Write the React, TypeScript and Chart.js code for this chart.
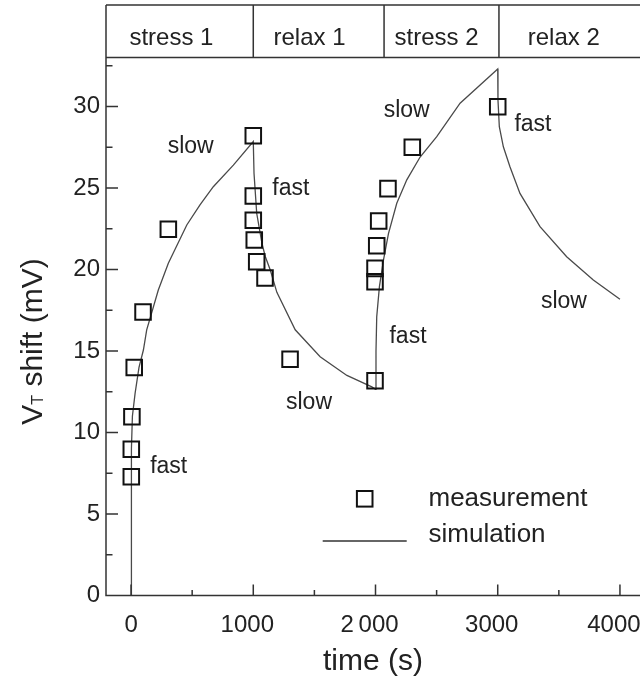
import React, { useEffect, useRef } from 'react';
import { Chart, registerables } from 'chart.js';

Chart.register(...registerables);

// ---------- data ----------
const phaseNames = ['stress 1', 'relax 1', 'stress 2', 'relax 2'];
const phaseLabelTime = [330, 1460, 2500, 3540];
const phaseEdges = [1000, 2070, 3010];

const measTime = [2, 2, 7, 26, 98, 305, 1000, 1000, 1000, 1008, 1028, 1096, 1301, 1996, 1996, 1996, 2010, 2026, 2102, 2301, 3000];
const measShift = [7.29, 8.97, 10.97, 13.99, 17.39, 22.47, 28.21, 24.51, 23.02, 21.81, 20.48, 19.48, 14.49, 13.18, 19.25, 20.07, 21.46, 22.98, 24.96, 27.5, 29.99];

const simTime = [
  0, 2, 4, 11, 33, 65, 101, 128, 223, 305, 456, 564, 673, 837, 1000,
  1006, 1028, 1071, 1098, 1139, 1193, 1343, 1547, 1766, 1970, 2000,
  2004, 2010, 2032, 2065, 2106, 2174, 2256, 2365, 2501, 2692, 3000,
  3002, 3013, 3046, 3100, 3182, 3346, 3564, 3782, 4000,
];
const simShift = [
  0, 7.3, 9.0, 11.0, 12.4, 14.0, 15.06, 16.3, 18.74, 20.38, 22.73, 23.96, 25.08, 26.4, 27.85,
  25.9, 23.45, 21.6, 20.8, 19.97, 18.6, 16.3, 14.65, 13.5, 12.8, 12.65,
  15.0, 17.1, 18.95, 20.58, 22.2, 24.06, 25.5, 26.9, 28.15, 30.2, 32.3,
  30.4, 28.76, 27.53, 26.3, 24.67, 22.63, 20.78, 19.36, 18.17,
];

const xTicks = [0, 1000, 2000, 3000, 4000];
const xTickLabels = ['0', '1000', '2\u2009000', '3000', '4000'];
const xMinorTicks = [500, 1500, 2500, 3500];
const yTicks = [0, 5, 10, 15, 20, 25, 30];
const yMinorTicks = [2.5, 7.5, 12.5, 17.5, 22.5, 27.5, 32.5];

const noteText = ['slow', 'fast', 'fast', 'slow', 'slow', 'fast', 'fast', 'slow'];
const noteTime = [488, 308, 1307, 1456, 2255, 2266, 3288, 3542];
const noteShift = [27.13, 7.5, 24.57, 11.44, 29.37, 15.49, 28.52, 17.62];

const xTitle = 'time (s)';
const yTitleMain = 'V';
const yTitleSub = 'T';
const yTitleRest = ' shift (mV)';

// ---------- styles ----------
const FONT = "'Liberation Sans', Arial, Helvetica, sans-serif";
const TEXT = '#222222';
const AXIS = '#333333';

const decorPlugin = {
  id: 'decor',
  afterDraw(chart: any) {
    const { ctx, chartArea: a, scales } = chart;
    const xs = scales.x;
    const ys = scales.y;
    const headerTop = 5;
    ctx.save();
    ctx.strokeStyle = AXIS;
    ctx.lineWidth = 1.5;
    ctx.beginPath();
    // frame + header box
    ctx.moveTo(a.left, headerTop);
    ctx.lineTo(a.left, a.bottom);
    ctx.lineTo(a.right, a.bottom);
    ctx.moveTo(a.left, headerTop);
    ctx.lineTo(a.right, headerTop);
    ctx.moveTo(a.left, a.top);
    ctx.lineTo(a.right, a.top);
    phaseEdges.forEach((t) => {
      const px = xs.getPixelForValue(t);
      ctx.moveTo(px, headerTop);
      ctx.lineTo(px, a.top);
    });
    // inward ticks
    yTicks.forEach((v) => {
      const py = ys.getPixelForValue(v);
      ctx.moveTo(a.left, py);
      ctx.lineTo(a.left + 12, py);
    });
    yMinorTicks.forEach((v) => {
      const py = ys.getPixelForValue(v);
      ctx.moveTo(a.left, py);
      ctx.lineTo(a.left + 6.5, py);
    });
    xTicks.forEach((v) => {
      const px = xs.getPixelForValue(v);
      ctx.moveTo(px, a.bottom);
      ctx.lineTo(px, a.bottom - 11);
    });
    xMinorTicks.forEach((v) => {
      const px = xs.getPixelForValue(v);
      ctx.moveTo(px, a.bottom);
      ctx.lineTo(px, a.bottom - 5.5);
    });
    ctx.stroke();

    // header labels
    ctx.fillStyle = TEXT;
    ctx.textAlign = 'center';
    ctx.textBaseline = 'alphabetic';
    ctx.font = `24px ${FONT}`;
    phaseNames.forEach((n, i) => {
      ctx.fillText(n, xs.getPixelForValue(phaseLabelTime[i]), 44.8);
    });

    // annotations
    ctx.font = `23px ${FONT}`;
    noteText.forEach((n, i) => {
      ctx.fillText(n, xs.getPixelForValue(noteTime[i]), ys.getPixelForValue(noteShift[i]));
    });

    // legend
    const ds = chart.data.datasets;
    ctx.textAlign = 'left';
    ctx.font = `26px ${FONT}`;
    ctx.lineWidth = 2;
    ctx.strokeStyle = '#111111';
    ctx.strokeRect(364.7 - 7.8, 498.8 - 7.8, 15.6, 15.6);
    ctx.fillText(ds[0].label, 428.5, 506);
    ctx.lineWidth = 1.3;
    ctx.strokeStyle = '#333333';
    ctx.beginPath();
    ctx.moveTo(322.7, 541);
    ctx.lineTo(406.7, 541);
    ctx.stroke();
    ctx.fillText(ds[1].label, 428.5, 541.7);

    // y title with subscript
    ctx.translate(42, 341.5);
    ctx.rotate(-Math.PI / 2);
    const big = `30px ${FONT}`;
    const small = `16px ${FONT}`;
    ctx.font = big;
    const wV = ctx.measureText(yTitleMain).width;
    const wR = ctx.measureText(yTitleRest).width;
    ctx.font = small;
    const wT = ctx.measureText(yTitleSub).width;
    const x0 = -(wV + wT + wR) / 2;
    ctx.font = big;
    ctx.fillText(yTitleMain, x0, 0);
    ctx.font = small;
    ctx.fillText(yTitleSub, x0 + wV, 1);
    ctx.font = big;
    ctx.fillText(yTitleRest, x0 + wV + wT, 0);
    ctx.restore();
  },
};

export default function App() {
  const canvasRef = useRef<HTMLCanvasElement | null>(null);

  useEffect(() => {
    document.body.style.margin = '0';
    const canvas = canvasRef.current;
    if (!canvas) return;
    const chart = new Chart(canvas, {
      type: 'scatter',
      data: {
        datasets: [
          {
            label: 'measurement',
            data: measTime.map((t, i) => ({ x: t, y: measShift[i] })),
            pointStyle: 'rect',
            pointRadius: 11,
            pointHoverRadius: 11,
            borderColor: '#111111',
            borderWidth: 2,
            backgroundColor: 'rgba(0,0,0,0)',
            showLine: false,
            order: 0,
          },
          {
            label: 'simulation',
            data: simTime.map((t, i) => ({ x: t, y: simShift[i] })),
            showLine: true,
            pointRadius: 0,
            pointHoverRadius: 0,
            borderColor: '#4a4a4a',
            borderWidth: 1.3,
            tension: 0,
            order: 1,
          },
        ],
      } as any,
      options: {
        responsive: false,
        animation: false,
        events: [],
        layout: { autoPadding: false, padding: { top: 57.6, left: 0, right: 0, bottom: 0 } },
        plugins: {
          legend: { display: false },
          tooltip: { enabled: false },
        },
        scales: {
          x: {
            type: 'linear',
            min: -205,
            max: 4164,
            grid: { display: false, drawTicks: false },
            border: { display: false },
            afterBuildTicks: (s: any) => {
              s.ticks = xTicks.map((v) => ({ value: v }));
            },
            afterFit: (s: any) => {
              s.height = 86.5;
              s.paddingLeft = 0;
              s.paddingRight = 0;
            },
            ticks: {
              autoSkip: false,
              maxRotation: 0,
              padding: 15,
              color: TEXT,
              font: { family: FONT, size: 24 },
              callback: (_v: any, i: number) => (i === 0 ? xTickLabels[i] : xTickLabels[i] + '\u2002'),
            },
            title: {
              display: true,
              text: xTitle,
              color: TEXT,
              font: { family: FONT, size: 30 },
              padding: { top: 0, bottom: 2 },
            },
          },
          y: {
            type: 'linear',
            min: 0,
            max: 33,
            grid: { display: false, drawTicks: false },
            border: { display: false },
            afterBuildTicks: (s: any) => {
              s.ticks = yTicks.map((v) => ({ value: v }));
            },
            afterFit: (s: any) => {
              s.width = 106;
              s.paddingTop = 0;
              s.paddingBottom = 0;
            },
            ticks: {
              autoSkip: false,
              padding: 6,
              color: TEXT,
              font: { family: FONT, size: 24 },
            },
          },
        },
      } as any,
      plugins: [decorPlugin],
    });
    return () => chart.destroy();
  }, []);

  return (
    <div style={{ width: 640, height: 682, overflow: 'hidden' }}>
      <canvas ref={canvasRef} width={640} height={682} style={{ display: 'block' }} />
    </div>
  );
}
